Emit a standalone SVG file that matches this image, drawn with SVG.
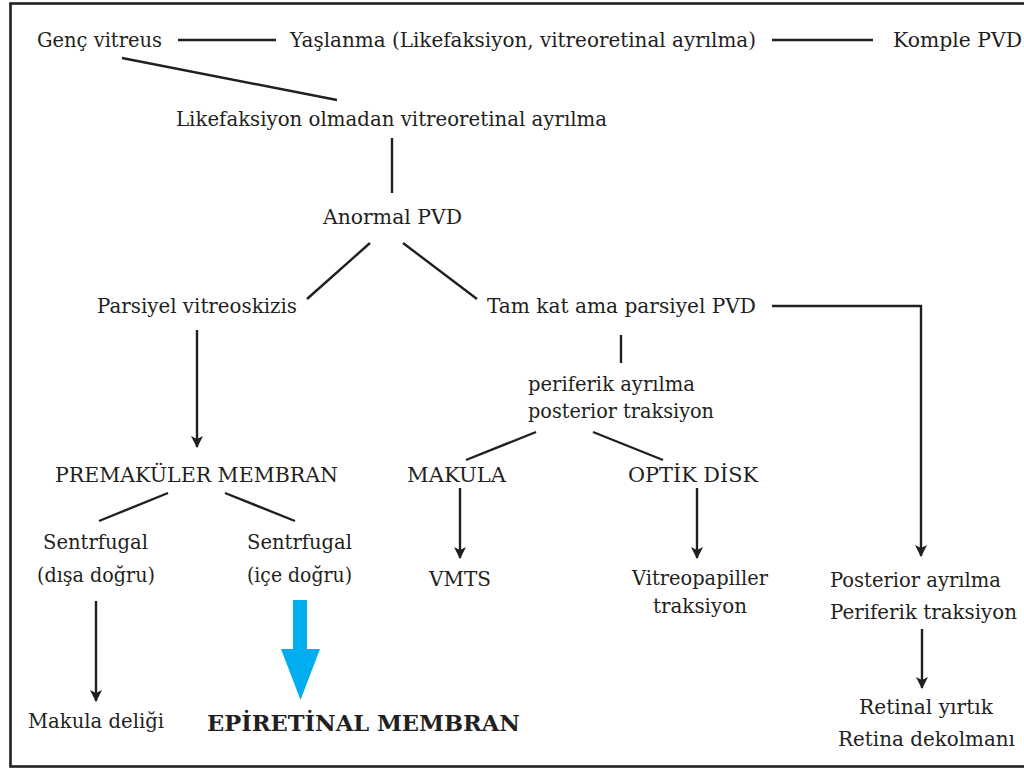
<svg xmlns="http://www.w3.org/2000/svg" width="1024" height="771" viewBox="0 0 1024 771">
<defs>
<style>
text{font-family:"DejaVu Serif","Liberation Serif",serif;font-size:20.5px;fill:#231f20}
.b{font-weight:bold;font-size:21.5px}
.ln{stroke:#231f20;stroke-width:2.4;fill:none}
.ar{stroke:#231f20;stroke-width:2.4;fill:none;marker-end:url(#ah)}
</style>
<marker id="ah" viewBox="0 0 12 12" refX="11" refY="6" markerWidth="12" markerHeight="12" markerUnits="userSpaceOnUse" orient="auto">
<path d="M0,0 L12,6 L0,12 L3,6 z" fill="#231f20"/>
</marker>
</defs>
<rect x="0" y="0" width="1024" height="771" fill="#fff"/>
<rect id="frame" x="10.5" y="3.5" width="1030" height="763" fill="none" stroke="#231f20" stroke-width="2.6"/>

<g id="connectors">
<line class="ln" x1="178" y1="40" x2="276" y2="40"/>
<line class="ln" x1="772" y1="40" x2="873" y2="40"/>
<line class="ln" x1="122" y1="58" x2="337" y2="100"/>
<line class="ln" x1="392" y1="138" x2="392" y2="193"/>
<line class="ln" x1="370" y1="243" x2="307" y2="299"/>
<line class="ln" x1="403" y1="243" x2="477" y2="299"/>
<line class="ar" x1="197" y1="330" x2="197" y2="447"/>
<polyline class="ar" points="772,306 921,306 921,556"/>
<line class="ln" x1="621" y1="335" x2="621" y2="363"/>
<line class="ln" x1="536" y1="432" x2="466" y2="460"/>
<line class="ln" x1="593" y1="432" x2="663" y2="460"/>
<line class="ln" x1="168" y1="493" x2="99" y2="521"/>
<line class="ln" x1="225" y1="493" x2="295" y2="521"/>
<line class="ar" x1="460" y1="488" x2="460" y2="558"/>
<line class="ar" x1="697" y1="488" x2="697" y2="558"/>
<line class="ar" x1="96" y1="601" x2="96" y2="701"/>
<line class="ar" x1="922" y1="629" x2="922" y2="688"/>
<polygon points="293,600 307,600 307,649 320,649 300.5,700 281,649 293,649" fill="#00aeef"/>
</g>

<g id="genc"><text x="37" y="47" textLength="125" lengthAdjust="spacingAndGlyphs">Genç vitreus</text></g>
<g id="yaslanma"><text x="290" y="47" textLength="466" lengthAdjust="spacingAndGlyphs">Yaşlanma (Likefaksiyon, vitreoretinal ayrılma)</text></g>
<g id="komple"><text x="893" y="47" textLength="129" lengthAdjust="spacingAndGlyphs">Komple PVD</text></g>
<g id="likefaksiyon"><text x="176" y="126" textLength="431" lengthAdjust="spacingAndGlyphs">Likefaksiyon olmadan vitreoretinal ayrılma</text></g>
<g id="anormal"><text x="323" y="224" textLength="139" lengthAdjust="spacingAndGlyphs">Anormal PVD</text></g>
<g id="parsiyel"><text x="97" y="313" textLength="200" lengthAdjust="spacingAndGlyphs">Parsiyel vitreoskizis</text></g>
<g id="tamkat"><text x="487" y="313" textLength="269" lengthAdjust="spacingAndGlyphs">Tam kat ama parsiyel PVD</text></g>
<g id="periferik">
<text x="528" y="391" textLength="167" lengthAdjust="spacingAndGlyphs">periferik ayrılma</text>
<text x="528" y="418" textLength="186" lengthAdjust="spacingAndGlyphs">posterior traksiyon</text>
</g>
<g id="premakuler"><text x="55" y="482" textLength="283" lengthAdjust="spacingAndGlyphs">PREMAKÜLER MEMBRAN</text></g>
<g id="makula"><text x="407" y="482" textLength="99" lengthAdjust="spacingAndGlyphs">MAKULA</text></g>
<g id="optik"><text x="628" y="482" textLength="130" lengthAdjust="spacingAndGlyphs">OPTİK DİSK</text></g>
<g id="sentr-disa">
<text x="43" y="549" textLength="105" lengthAdjust="spacingAndGlyphs">Sentrfugal</text>
<text x="37" y="582" textLength="118" lengthAdjust="spacingAndGlyphs">(dışa doğru)</text>
</g>
<g id="sentr-ice">
<text x="247" y="549" textLength="105" lengthAdjust="spacingAndGlyphs">Sentrfugal</text>
<text x="247" y="582" textLength="105" lengthAdjust="spacingAndGlyphs">(içe doğru)</text>
</g>
<g id="vmts"><text x="429" y="586" textLength="62" lengthAdjust="spacingAndGlyphs">VMTS</text></g>
<g id="vitreopapiller">
<text x="632" y="585" textLength="136" lengthAdjust="spacingAndGlyphs">Vitreopapiller</text>
<text x="653" y="613" textLength="94" lengthAdjust="spacingAndGlyphs">traksiyon</text>
</g>
<g id="posterior">
<text x="830" y="587" textLength="171" lengthAdjust="spacingAndGlyphs">Posterior ayrılma</text>
<text x="830" y="619" textLength="187" lengthAdjust="spacingAndGlyphs">Periferik traksiyon</text>
</g>
<g id="retinal">
<text x="859" y="714" textLength="134" lengthAdjust="spacingAndGlyphs">Retinal yırtık</text>
<text x="838" y="746" textLength="177" lengthAdjust="spacingAndGlyphs">Retina dekolmanı</text>
</g>
<g id="makula-deligi"><text x="28" y="728" textLength="136" lengthAdjust="spacingAndGlyphs">Makula deliği</text></g>
<g id="epiretinal"><text class="b" x="207" y="731" textLength="313" lengthAdjust="spacingAndGlyphs">EPİRETİNAL MEMBRAN</text></g>
</svg>
